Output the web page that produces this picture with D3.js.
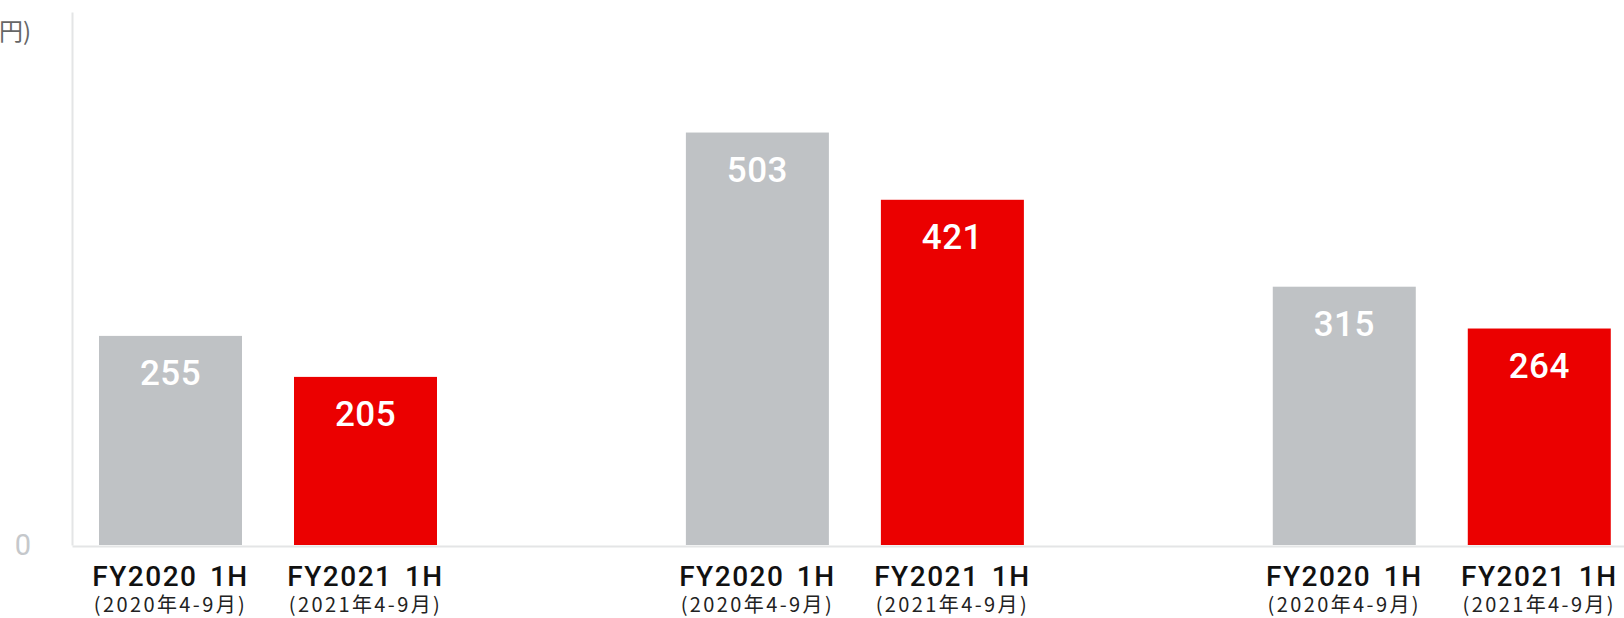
<!DOCTYPE html>
<html>
<head>
<meta charset="utf-8">
<script src="https://cdn.jsdelivr.net/npm/d3@7"></script>
<style>
  html, body { margin: 0; padding: 0; background: #fff; overflow: hidden; }
  svg { display: block; }
</style>
</head>
<body>
<svg id="chart" width="1624" height="618"></svg>
<script>
// values (億円)
const groups = ["g1", "g2", "g3"];
const periods = ["FY2020 1H", "FY2021 1H"];
const periodSubs = ["(2020年4-9月)", "(2021年4-9月)"];
const values2020 = [255, 503, 315];
const values2021 = [205, 421, 264];
const yTicks = [0];
const unitLabel = "(億円)";

const colors = ["#bfc2c5", "#eb0000"];

const svg = d3.select("#chart");
const margin = { top: 12, right: 0, bottom: 73, left: 72 };
const width = +svg.attr("width") - margin.left - margin.right;
const height = +svg.attr("height") - margin.top - margin.bottom;

const g = svg.append("g").attr("transform", "translate(" + margin.left + "," + margin.top + ")");

const x0 = d3.scaleBand()
  .domain(groups)
  .range([26, 1539])
  .paddingInner(0.422)
  .paddingOuter(0);

const x1 = d3.scaleBand()
  .domain(periods)
  .rangeRound([0, x0.bandwidth()])
  .paddingInner(0.266)
  .paddingOuter(0);

const y = d3.scaleLinear()
  .domain([0, 650])
  .range([height, 0]);

const data = groups.map((grp, i) => ({
  group: grp,
  bars: [
    { period: periods[0], sub: periodSubs[0], value: values2020[i], idx: 0 },
    { period: periods[1], sub: periodSubs[1], value: values2021[i], idx: 1 }
  ]
}));

// y axis (vertical rule + 0 label)
const yAxis = g.append("g")
  .attr("class", "y-axis")
  .call(d3.axisLeft(y).tickValues(yTicks).tickSize(0).tickSizeOuter(0).tickPadding(49));
yAxis.select(".domain").attr("stroke", "#e4e5e6").attr("stroke-width", 2);
yAxis.selectAll("text")
  .attr("font-family", "Roboto, sans-serif")
  .attr("font-weight", 400)
  .attr("font-size", 29)
  .attr("fill", "#c5c8cb")
  .attr("text-anchor", "middle");

// x baseline
const xAxis = g.append("g")
  .attr("class", "x-axis")
  .attr("transform", "translate(0," + (height + 1) + ")")
  .call(d3.axisBottom(d3.scaleLinear().range([0, width])).tickValues([]).tickSizeOuter(0));
xAxis.select(".domain").attr("stroke", "#e4e5e6").attr("stroke-width", 2);

// bars
const grp = g.append("g").selectAll("g")
  .data(data)
  .enter().append("g")
  .attr("transform", d => "translate(" + x0(d.group) + ",0)");

const bar = grp.selectAll("g")
  .data(d => d.bars)
  .enter().append("g")
  .attr("transform", d => "translate(" + x1(d.period) + ",0)");

bar.append("rect")
  .attr("x", 0)
  .attr("y", d => y(d.value))
  .attr("width", x1.bandwidth())
  .attr("height", d => height - y(d.value))
  .attr("fill", d => colors[d.idx]);

bar.append("text")
  .attr("x", x1.bandwidth() / 2)
  .attr("y", d => y(d.value) + 49)
  .attr("text-anchor", "middle")
  .attr("font-family", "Roboto, sans-serif")
  .attr("font-weight", 500)
  .attr("font-size", 35)
  .attr("letter-spacing", "0.5px")
  .attr("fill", "#fff")
  .text(d => d.value);

bar.append("text")
  .attr("x", x1.bandwidth() / 2)
  .attr("y", height + 41)
  .attr("text-anchor", "middle")
  .attr("font-family", "Roboto, sans-serif")
  .attr("font-weight", 500)
  .attr("font-size", 28)
  .attr("letter-spacing", "1.5px")
  .attr("word-spacing", "4px")
  .attr("fill", "#111")
  .text(d => d.period);

bar.append("text")
  .attr("x", x1.bandwidth() / 2)
  .attr("y", height + 67)
  .attr("text-anchor", "middle")
  .attr("font-family", "'Noto Sans CJK JP', sans-serif")
  .attr("font-weight", 400)
  .attr("font-size", 20)
  .attr("letter-spacing", "2.4px")
  .attr("fill", "#222")
  .text(d => d.sub);

// unit label, partly off the left edge
svg.append("text")
  .attr("x", 31)
  .attr("y", 40)
  .attr("text-anchor", "end")
  .attr("font-family", "'Noto Sans CJK JP', sans-serif")
  .attr("font-size", 24)
  .attr("fill", "#666")
  .text(unitLabel);
</script>
</body>
</html>
